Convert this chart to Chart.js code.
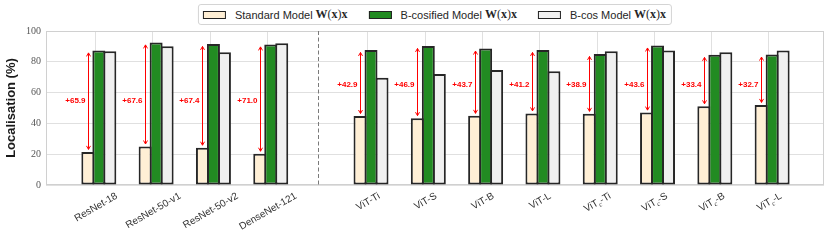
<!DOCTYPE html>
<html>
<head>
<meta charset="utf-8">
<script src="https://cdn.jsdelivr.net/npm/chart.js@4.4.1/dist/chart.umd.min.js"></script>
<style>
  html, body { margin: 0; padding: 0; background: #fff; }
  #wrap { position: relative; width: 830px; height: 240px; }
  #legend {
    position: absolute; top: 4px; height: 21px; box-sizing: border-box;
    border: 1px solid #d4d4d4; border-radius: 3px; background: #fff;
    display: flex; align-items: center; padding: 0 5px 0 4px;
    font: 11px 'Liberation Sans', Arial, sans-serif; color: #262626;
    white-space: nowrap; transform: translateX(-50%);
  }
  .item { display: flex; align-items: center; margin-right: 21px; }
  .item:last-child { margin-right: 0; }
  .swatch { width: 23px; height: 8px; box-sizing: border-box; border: 1.5px solid #222; margin-right: 9px; }
  .math { font-family: 'Liberation Serif', serif; font-size: 12px; margin-left: 3px; }
</style>
</head>
<body>
<div id="wrap">
  <canvas id="chart" width="830" height="240"></canvas>
  <div id="legend"></div>
</div>
<script>
(function(){
  const models = ['ResNet-18', 'ResNet-50-v1', 'ResNet-50-v2', 'DenseNet-121',
    'ViT-Ti', 'ViT-S', 'ViT-B', 'ViT-L', 'ViT_c-Ti', 'ViT_c-S', 'ViT_c-B', 'ViT_c-L'];
  const seriesNames = ['Standard Model', 'B-cosified Model', 'B-cos Model'];
  const standard  = [21.5, 25.0, 24.2, 20.3, 44.8, 43.4, 44.9, 46.5, 46.2, 47.0, 51.1, 52.0];
  const bcosified = [87.4, 92.6, 91.6, 91.3, 87.7, 90.3, 88.6, 87.7, 85.1, 90.6, 84.5, 84.7];
  const bcos      = [86.8, 90.1, 86.2, 92.0, 69.7, 72.0, 74.6, 73.9, 86.8, 87.3, 86.2, 87.3];
  const deltaLabels = ['+65.9', '+67.6', '+67.4', '+71.0', '+42.9', '+46.9',
    '+43.7', '+41.2', '+38.9', '+43.6', '+33.4', '+32.7'];
  const yTicks = [0, 20, 40, 60, 80, 100];

  const N_CNN = 4;          // first group: CNNs, then ViTs
  const GAP = 0.75;         // extra space between the two groups
  const BAR_SHIFT = 0.055;  // bars sit a little right of the tick
  const X_MIN = -0.867, X_MAX = 12.71;
  const LABEL_LEVEL = { cnn: 55, vit: 65 };

  const COLORS = {
    standard: '#FFEFD5',
    bcosified: '#228B22',
    bcos: '#F0F0F0',
    edge: '#262626',
    grid: '#e0e0e0',
    frame: '#d0d0d0',
    arrow: '#ff0000',
    sep: '#7a7a7a',
    text: '#333333'
  };

  const xPos = models.map((m, i) => i + (i >= N_CNN ? GAP : 0));

  function series(values) {
    return values.map((v, i) => ({ x: xPos[i] + BAR_SHIFT, y: v }));
  }

  const datasets = [
    { label: seriesNames[0] + ' W(x)x', data: series(standard), backgroundColor: COLORS.standard },
    { label: seriesNames[1] + ' W(x)x', data: series(bcosified), backgroundColor: COLORS.bcosified },
    { label: seriesNames[2] + ' W(x)x', data: series(bcos), backgroundColor: COLORS.bcos }
  ];

  function renderLegend(){
    const legend = document.getElementById('legend');
    legend.innerHTML = '';
    datasets.forEach((ds, idx) => {
      const item = document.createElement('span');
      item.className = 'item';
      const box = document.createElement('span');
      box.className = 'swatch';
      box.style.background = ds.backgroundColor;
      const label = document.createElement('span');
      label.textContent = seriesNames[idx];
      const math = document.createElement('span');
      math.className = 'math';
      math.innerHTML = '<b>W</b>(<b>x</b>)<b>x</b>';
      item.appendChild(box); item.appendChild(label); item.appendChild(math);
      legend.appendChild(item);
    });
  }

  const framePlugin = {
    id: 'frame',
    beforeDatasetsDraw(chart) {
      const { ctx, chartArea: a, scales } = chart;
      ctx.save();
      ctx.strokeStyle = COLORS.frame;
      ctx.lineWidth = 1;
      ctx.strokeRect(Math.round(a.left) + 0.5, Math.round(a.top) + 0.5,
        Math.round(a.right - a.left) - 1, Math.round(a.bottom - a.top) - 1);
      // dashed separator between CNNs and ViTs
      const sx = Math.round(scales.x.getPixelForValue((xPos[N_CNN - 1] + xPos[N_CNN]) / 2)) + 0.5;
      ctx.strokeStyle = COLORS.sep;
      ctx.setLineDash([4, 2.5]);
      ctx.beginPath();
      ctx.moveTo(sx, a.top);
      ctx.lineTo(sx, a.bottom);
      ctx.stroke();
      ctx.restore();
    }
  };

  function drawHead(ctx, x, y, dir) {
    ctx.beginPath();
    ctx.moveTo(x - 2, y + dir * 3.5);
    ctx.lineTo(x, y);
    ctx.lineTo(x + 2, y + dir * 3.5);
    ctx.stroke();
  }

  const annotatePlugin = {
    id: 'annotate',
    afterDatasetsDraw(chart) {
      const { ctx, chartArea: a, scales } = chart;
      const stdMeta = chart.getDatasetMeta(0);
      const bcMeta = chart.getDatasetMeta(1);
      ctx.save();
      ctx.strokeStyle = COLORS.arrow;
      ctx.fillStyle = COLORS.arrow;
      ctx.lineWidth = 1;
      ctx.font = 'bold 8px "Liberation Sans", Arial, sans-serif';
      ctx.textAlign = 'right';
      ctx.textBaseline = 'middle';
      stdMeta.data.forEach((bar, i) => {
        const x = Math.round(bar.x) + 0.5;
        const yLow = bar.y - 2.5;
        const yHigh = bcMeta.data[i].y + 2.5;
        ctx.beginPath();
        ctx.moveTo(x, yLow);
        ctx.lineTo(x, yHigh);
        ctx.stroke();
        drawHead(ctx, x, yHigh, 1);
        drawHead(ctx, x, yLow, -1);
        const level = i < N_CNN ? LABEL_LEVEL.cnn : LABEL_LEVEL.vit;
        ctx.fillText(deltaLabels[i], x - 3, scales.y.getPixelForValue(level));
      });
      ctx.restore();

      // rotated x tick labels (with subscript c)
      const mainFont = '10px "Liberation Sans", Arial, sans-serif';
      const subFont = 'italic 7px "Liberation Serif", serif';
      const ang = Math.PI / 6;
      ctx.save();
      ctx.fillStyle = COLORS.text;
      ctx.textBaseline = 'alphabetic';
      ctx.textAlign = 'left';
      models.forEach((name, i) => {
        let parts;
        if (name.includes('_c')) {
          const [head, tail] = name.split('_c');
          parts = [{ t: head, f: mainFont, dy: 0 }, { t: 'c', f: subFont, dy: 2.5 }, { t: tail, f: mainFont, dy: 0 }];
        } else {
          parts = [{ t: name, f: mainFont, dy: 0 }];
        }
        let w = 0;
        parts.forEach(p => { ctx.font = p.f; p.w = ctx.measureText(p.t).width; w += p.w; });
        const h = 7.2;
        const bh = w * Math.sin(ang) + h * Math.cos(ang);
        const cx = scales.x.getPixelForValue(xPos[i]);
        const cy = a.bottom + 6.5 + bh / 2;
        ctx.save();
        ctx.translate(cx, cy);
        ctx.rotate(-ang);
        let px = -w / 2;
        parts.forEach(p => {
          ctx.font = p.f;
          ctx.fillText(p.t, px, h / 2 + p.dy);
          px += p.w;
        });
        ctx.restore();
      });
      ctx.restore();
    }
  };

  const canvas = document.getElementById('chart');
  const chart = new Chart(canvas.getContext('2d'), {
    type: 'bar',
    data: { datasets },
    options: {
      responsive: false,
      animation: false,
      events: [],
      devicePixelRatio: 1,
      layout: { padding: { left: 0, right: 6, top: 31, bottom: 55 } },
      datasets: {
        bar: {
          categoryPercentage: 0.576,
          barPercentage: 1.18,
          borderWidth: 2,
          borderColor: COLORS.edge,
          borderSkipped: false
        }
      },
      plugins: { legend: { display: false }, tooltip: { enabled: false } },
      scales: {
        x: {
          type: 'linear',
          min: X_MIN,
          max: X_MAX,
          offset: false,
          afterBuildTicks: s => { s.ticks = xPos.map(v => ({ value: v })); },
          grid: { offset: false, color: COLORS.grid, drawTicks: false },
          border: { display: false },
          ticks: { display: false }
        },
        y: {
          min: 0,
          max: 100,
          afterBuildTicks: s => { s.ticks = yTicks.map(v => ({ value: v })); },
          afterFit: s => { s.width = 46; },
          grid: { color: COLORS.grid, drawTicks: false },
          border: { display: false },
          ticks: { padding: 5, color: '#555', font: { family: 'Liberation Serif', size: 10 } },
          title: {
            display: true,
            text: 'Localisation (%)',
            color: '#1a1a1a',
            font: { family: 'Liberation Sans', weight: 'bold', size: 13 },
            padding: { top: 4, bottom: 0 }
          }
        }
      }
    },
    plugins: [framePlugin, annotatePlugin]
  });

  renderLegend();
  const legendEl = document.getElementById('legend');
  legendEl.style.left = ((chart.chartArea.left + chart.chartArea.right) / 2) + 'px';
})();
</script>
</body>
</html>
